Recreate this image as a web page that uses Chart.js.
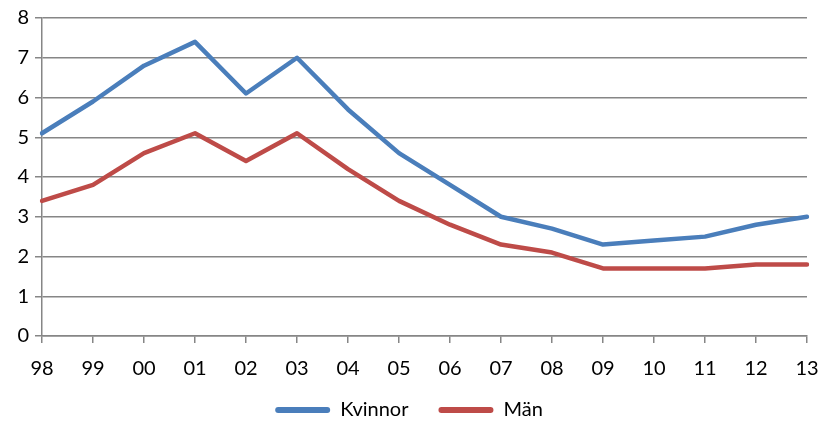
<!DOCTYPE html>
<html>
<head>
<meta charset="utf-8">
<script src="https://cdn.jsdelivr.net/npm/chart.js@4/dist/chart.umd.min.js"></script>
<style>
  html, body { margin: 0; padding: 0; background: #ffffff; }
  #wrap { width: 818px; height: 422px; position: relative; }
</style>
</head>
<body>
<div id="wrap"><canvas id="c" width="818" height="422"></canvas></div>
<script>
// Year labels (two-digit), 1998–2013
const years = ['98','99','00','01','02','03','04','05','06','07','08','09','10','11','12','13'];
// Women
const kvinnor = [5.1, 5.9, 6.8, 7.4, 6.1, 7.0, 5.7, 4.6, 3.8, 3.0, 2.7, 2.3, 2.4, 2.5, 2.8, 3.0];
// Men
const man = [3.4, 3.8, 4.6, 5.1, 4.4, 5.1, 4.2, 3.4, 2.8, 2.3, 2.1, 1.7, 1.7, 1.7, 1.8, 1.8];

const gridColor = '#868686';
const fontFamily = "Lato, 'Open Sans', 'Liberation Sans', sans-serif";

// Places the legend row near the bottom edge
const legendShift = {
  id: 'legendShift',
  afterLayout(chart) {
    const lg = chart.legend;
    if (lg) { const h = lg.height; lg.top = 370; lg.bottom = 370 + h; }
  }
};

new Chart(document.getElementById('c'), {
  type: 'line',
  data: {
    labels: years,
    datasets: [
      { label: 'Kvinnor', data: kvinnor, borderColor: '#4a7ebb', backgroundColor: '#4a7ebb',
        borderWidth: 4.5, pointRadius: 0, tension: 0, borderJoinStyle: 'round', borderCapStyle: 'round' },
      { label: 'Män', data: man, borderColor: '#be4b48', backgroundColor: '#be4b48',
        borderWidth: 4.5, pointRadius: 0, tension: 0, borderJoinStyle: 'round', borderCapStyle: 'round' }
    ]
  },
  plugins: [legendShift],
  options: {
    responsive: false,
    animation: false,
    devicePixelRatio: 1,
    layout: { padding: { top: 18, right: 0, left: 0, bottom: -26 } },
    plugins: {
      tooltip: { enabled: false },
      legend: {
        position: 'bottom',
        labels: {
          color: '#000000',
          font: { family: fontFamily, size: 20 },
          boxWidth: 55,
          boxHeight: 6,
          padding: 30,
          useBorderRadius: true,
          borderRadius: 3,
          generateLabels(chart) {
            const items = Chart.defaults.plugins.legend.labels.generateLabels(chart);
            items.forEach(i => { i.lineWidth = 0; });
            return items;
          }
        }
      }
    },
    scales: {
      x: {
        offset: false,
        afterFit(s) { s.height = 52; s.paddingRight = 11; },
        grid: { display: true, drawOnChartArea: false, color: gridColor, offset: false, tickLength: 7, lineWidth: 1.5 },
        border: { color: gridColor, width: 1.5 },
        ticks: { color: '#000000', font: { family: fontFamily, size: 20 }, padding: 14, maxRotation: 0, autoSkip: false }
      },
      y: {
        min: 0, max: 8,
        afterFit(s) { s.width = 42; s.paddingTop = 0; },
        grid: { color: gridColor, tickLength: 7, lineWidth: 1.5 },
        border: { color: gridColor, width: 1.5 },
        ticks: { stepSize: 1, color: '#000000', font: { family: fontFamily, size: 20 }, padding: 6 }
      }
    }
  }
});
</script>
</body>
</html>
